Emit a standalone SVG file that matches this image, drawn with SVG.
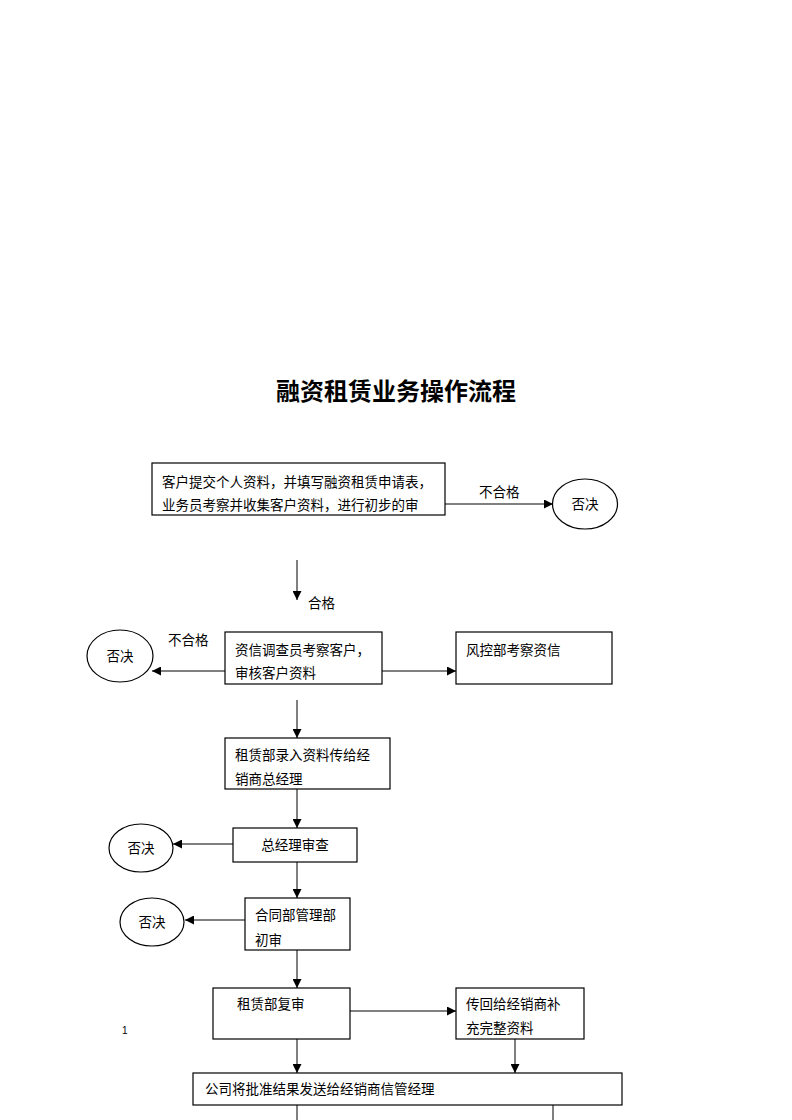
<svg xmlns="http://www.w3.org/2000/svg" width="792" height="1120" viewBox="0 0 792 1120">
<defs>
<marker id="ah" viewBox="0 0 10 10" refX="10" refY="5" markerWidth="10" markerHeight="9" markerUnits="userSpaceOnUse" orient="auto"><path d="M0,0 L10,5 L0,10 Z" fill="#000"/></marker>
<style>
.t{font-family:"Noto Sans CJK SC","Noto Sans",sans-serif;font-size:13.5px;fill:#000}
.b{fill:#fff;stroke:#000;stroke-width:1.2}
.c{stroke:#000;stroke-width:1;fill:none}
.a{marker-end:url(#ah)}
</style>
</defs>
<rect width="792" height="1120" fill="#fff"/>
<text x="396" y="400" text-anchor="middle" style="font-family:'Noto Sans CJK SC',sans-serif;font-size:24px;font-weight:bold">融资租赁业务操作流程</text>
<text x="122" y="1034" style="font-family:'Liberation Sans',sans-serif;font-size:10px">1</text>

<g id="connectors">
<line class="c a" x1="445" y1="504" x2="553" y2="504"/>
<line class="c a" x1="297" y1="560" x2="297" y2="600"/>
<line class="c a" x1="225" y1="671" x2="152" y2="671"/>
<line class="c a" x1="382" y1="671" x2="456" y2="671"/>
<line class="c a" x1="297" y1="700" x2="297" y2="738"/>
<line class="c a" x1="297" y1="789" x2="297" y2="828"/>
<line class="c a" x1="233" y1="844" x2="173" y2="844"/>
<line class="c a" x1="297" y1="862" x2="297" y2="898"/>
<line class="c a" x1="245" y1="920" x2="185" y2="920"/>
<line class="c a" x1="297" y1="950" x2="297" y2="988"/>
<line class="c a" x1="350" y1="1011" x2="456" y2="1011"/>
<line class="c a" x1="297" y1="1039" x2="297" y2="1073"/>
<line class="c a" x1="515" y1="1039" x2="515" y2="1073"/>
<line class="c" x1="297" y1="1105" x2="297" y2="1120"/>
<line class="c" x1="553" y1="1105" x2="553" y2="1120"/>
<text class="t" x="479" y="497">不合格</text>
<text class="t" x="308" y="608">合格</text>
<text class="t" x="168" y="645">不合格</text>
</g>

<g id="n1">
<rect class="b" x="152" y="463" width="293" height="52"/>
<text class="t" x="162" y="487">客户提交个人资料，并填写融资租赁申请表，</text>
<text class="t" x="162" y="510">业务员考察并收集客户资料，进行初步的审</text>
</g>
<g id="r1">
<ellipse class="b" cx="585" cy="504" rx="32.5" ry="25"/>
<text class="t" x="585" y="509" text-anchor="middle">否决</text>
</g>
<g id="n2">
<rect class="b" x="225" y="632" width="157" height="52"/>
<text class="t" x="235" y="655">资信调查员考察客户，</text>
<text class="t" x="235" y="678">审核客户资料</text>
</g>
<g id="n3">
<rect class="b" x="456" y="632" width="156" height="52"/>
<text class="t" x="466" y="655">风控部考察资信</text>
</g>
<g id="r2">
<ellipse class="b" cx="120" cy="656" rx="33" ry="26"/>
<text class="t" x="120" y="661" text-anchor="middle">否决</text>
</g>
<g id="n4">
<rect class="b" x="225" y="738" width="165" height="51"/>
<text class="t" x="235" y="760">租赁部录入资料传给经</text>
<text class="t" x="235" y="784">销商总经理</text>
</g>
<g id="n5">
<rect class="b" x="233" y="828" width="124" height="34"/>
<text class="t" x="295" y="850" text-anchor="middle">总经理审查</text>
</g>
<g id="r3">
<ellipse class="b" cx="141" cy="848" rx="32" ry="24"/>
<text class="t" x="141" y="853" text-anchor="middle">否决</text>
</g>
<g id="n6">
<rect class="b" x="245" y="898" width="105" height="52"/>
<text class="t" x="255" y="920">合同部管理部</text>
<text class="t" x="255" y="945">初审</text>
</g>
<g id="r4">
<ellipse class="b" cx="152" cy="922" rx="32" ry="24"/>
<text class="t" x="152" y="927" text-anchor="middle">否决</text>
</g>
<g id="n7">
<rect class="b" x="213" y="988" width="137" height="51"/>
<text class="t" x="237" y="1009">租赁部复审</text>
</g>
<g id="n8">
<rect class="b" x="456" y="988" width="128" height="51"/>
<text class="t" x="466" y="1009">传回给经销商补</text>
<text class="t" x="466" y="1033">充完整资料</text>
</g>
<g id="n9">
<rect class="b" x="193" y="1073" width="429" height="32"/>
<text class="t" x="205" y="1094">公司将批准结果发送给经销商信管经理</text>
</g>
</svg>
